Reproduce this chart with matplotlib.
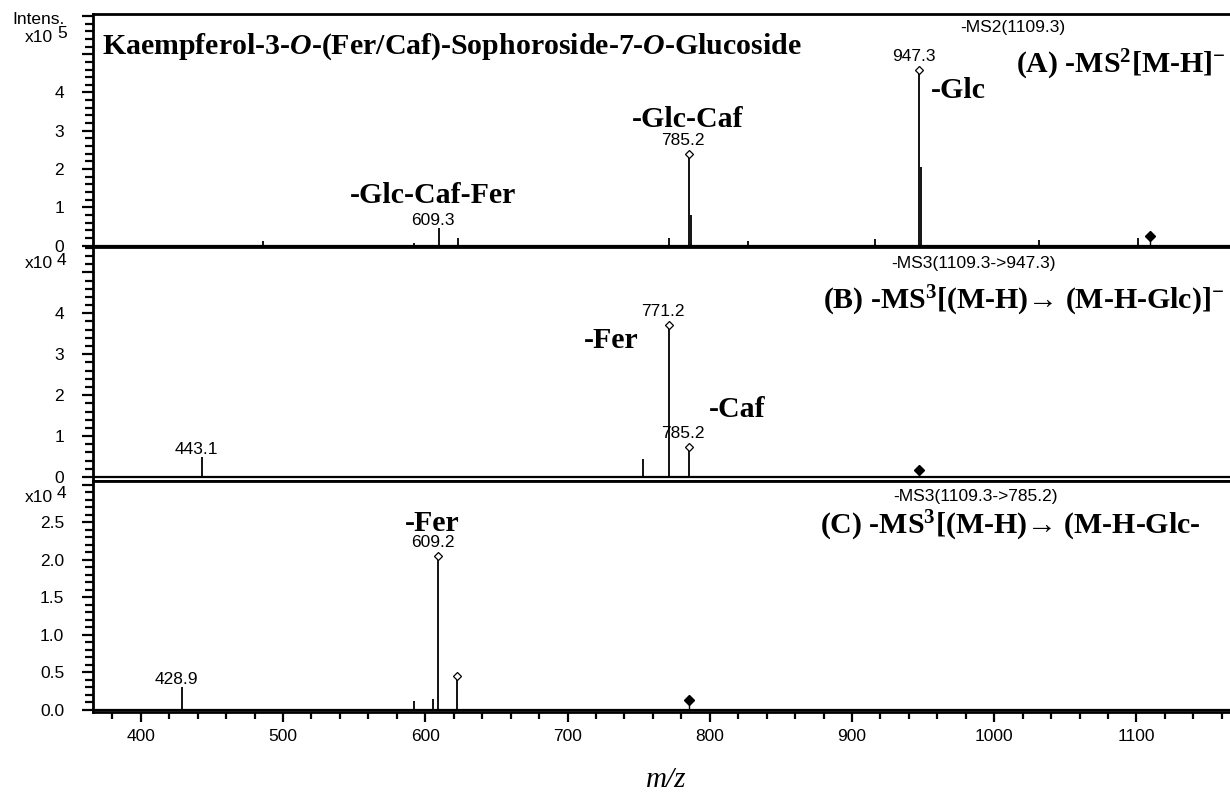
import matplotlib
matplotlib.use("Agg")
import matplotlib.pyplot as plt
import matplotlib.transforms as mtransforms
from matplotlib.ticker import MultipleLocator

# ---- data ----
# (A) MS2 of 1109.3, intensity x1e5
a_mz = [485.9, 592.1, 609.3, 622.8, 771.4, 785.2, 786.9, 827.1, 915.9, 947.3, 948.3, 1031.5, 1101.1]
a_int = [0.13, 0.08, 0.46, 0.21, 0.19, 2.30, 0.80, 0.12, 0.18, 4.50, 2.05, 0.15, 0.20]
a_open = [947.3, 785.2]
a_labels = ["947.3", "785.2", "609.3"]
a_prec = (1109.3, 0.16)

# (B) MS3 1109.3->947.3, intensity x1e4
b_mz = [443.1, 753.1, 771.2, 785.2]
b_int = [0.50, 0.44, 3.62, 0.64]
b_open = [771.2, 785.2]
b_labels = ["443.1", "771.2", "785.2"]
b_prec = (947.3, 0.08)

# (C) MS3 1109.3->785.2, intensity x1e4
c_mz = [428.9, 592.1, 605.4, 609.2, 622.3]
c_int = [0.30, 0.12, 0.15, 2.00, 0.40]
c_open = [609.2, 622.3]
c_labels = ["428.9", "609.2"]
c_prec = (785.2, 0.08)

a_yticks = [0, 1, 2, 3, 4, 5, 6]
a_yticklabels = ["0", "1", "2", "3", "4", "", ""]
b_yticks = [0, 1, 2, 3, 4, 5]
b_yticklabels = ["0", "1", "2", "3", "4", ""]
c_yticks = [0.0, 0.5, 1.0, 1.5, 2.0, 2.5, 3.0]
c_yticklabels = ["0.0", "0.5", "1.0", "1.5", "2.0", "2.5", ""]
x_ticks = [400, 500, 600, 700, 800, 900, 1000, 1100]

plt.rcParams["font.family"] = ["Liberation Sans", "DejaVu Sans"]
plt.rcParams["mathtext.fontset"] = "custom"
plt.rcParams["mathtext.rm"] = "Liberation Serif:bold"
plt.rcParams["mathtext.bf"] = "Liberation Serif:bold"
plt.rcParams["mathtext.it"] = "Liberation Serif:bold:italic"

W, H = 1230, 795
fig = plt.figure(figsize=(W / 100, H / 100), dpi=100)


def px_axes(top, bottom):
    left = 93.3
    right = 1240
    return fig.add_axes([left / W, 1 - bottom / H, (right - left) / W, (bottom - top) / H])


axA = px_axes(14, 247)
axB = px_axes(247, 480.5)
axC = px_axes(480.5, 712)

xlim = (366.6, 1172.8)
bold_serif = dict(family=["Liberation Serif", "DejaVu Serif"], weight="bold", fontsize=21.5)
fs_small = 12.5
small = dict(fontsize=fs_small)


def draw(ax, mz, inten, opened, labels, prec, ylim, yticks, yticklabels, minor):
    ax.vlines(mz, 0, inten, color="black", lw=1.3)
    ax.axhline(0, color="black", lw=1.6)
    mark_tr = mtransforms.offset_copy(ax.transData, fig=fig, y=3.5, units="dots")
    for m in opened:
        h = inten[mz.index(m)]
        ax.plot([m], [h], marker="D", ms=4.5, mfc="white", mec="black", mew=0.9,
                transform=mark_tr, clip_on=False)
    for lab in labels:
        m = float(lab)
        h = inten[mz.index(m)]
        off = 7 if m in opened else 0
        ax.annotate(lab, (m, h), xytext=(-4, off), textcoords="offset points",
                    ha="center", va="bottom", **small)
    ax.vlines([prec[0]], 0, [prec[1]], color="black", lw=1.0)
    ax.plot([prec[0]], [prec[1]], marker="D", ms=5, color="black", transform=mark_tr)
    ax.set_xlim(*xlim)
    ax.set_ylim(*ylim)
    ax.set_yticks(yticks)
    ax.set_yticklabels(yticklabels)
    ax.yaxis.set_minor_locator(MultipleLocator(minor))
    ax.tick_params(axis="y", which="major", direction="out", length=8, width=1.6,
                   pad=13, labelsize=fs_small)
    ax.tick_params(axis="y", which="minor", direction="out", length=5.5, width=1.6)
    for s in ax.spines.values():
        s.set_linewidth(2)


draw(axA, a_mz, a_int, a_open, a_labels, a_prec, (-0.037, 6.05), a_yticks, a_yticklabels, 0.2)
draw(axB, b_mz, b_int, b_open, b_labels, b_prec, (-0.086, 5.62), b_yticks, b_yticklabels, 0.2)
draw(axC, c_mz, c_int, c_open, c_labels, c_prec, (-0.027, 3.06), c_yticks, c_yticklabels, 0.1)

for ax in (axA, axB):
    ax.tick_params(axis="x", which="both", bottom=False, labelbottom=False)

axC.set_xticks(x_ticks)
axC.xaxis.set_minor_locator(MultipleLocator(20))
axC.tick_params(axis="x", which="major", direction="out", length=7, width=1.6,
                pad=5, labelsize=fs_small)
axC.tick_params(axis="x", which="minor", direction="out", length=5, width=1.6)
axC.set_xlabel("m/z", family=["Liberation Serif"], style="italic", fontsize=21, labelpad=17)

# panel A
axA.text(0.008, 0.86, r"Kaempferol-3-$\mathit{O}$-(Fer/Caf)-Sophoroside-7-$\mathit{O}$-Glucoside",
         transform=axA.transAxes, ha="left", va="center", **bold_serif)
axA.text(1013.4, 5.71, "-MS2(1109.3)", ha="center", va="center", **small)
axA.text(1015.5, 4.72, r"(A) -MS$^{2}$[M-H]$^{-}$", ha="left", va="center", **bold_serif)
axA.text(955.5, 4.06, "-Glc", ha="left", va="center", **bold_serif)
axA.text(784.8, 3.30, "-Glc-Caf", ha="center", va="center", **bold_serif)
axA.text(605.3, 1.32, "-Glc-Caf-Fer", ha="center", va="center", **bold_serif)

# panel B
axB.text(985.2, 5.21, "-MS3(1109.3->947.3)", ha="center", va="center", **small)
axB.text(879.9, 4.30, "(B) -MS$^{3}$[(M-H)\u2192 (M-H-Glc)]$^{-}$", ha="left", va="center", **bold_serif)
axB.text(711.7, 3.33, "-Fer", ha="left", va="center", **bold_serif)
axB.text(799.3, 1.66, "-Caf", ha="left", va="center", **bold_serif)

# panel C
axC.text(986.6, 2.85, "-MS3(1109.3->785.2)", ha="center", va="center", **small)
axC.text(877.7, 2.45, "(C) -MS$^{3}$[(M-H)\u2192 (M-H-Glc-", ha="left", va="center", **bold_serif)
axC.text(585.9, 2.49, "-Fer", ha="left", va="center", **bold_serif)

# intensity labels at the left
fig.text(39 / W, 1 - 19 / H, "Intens.", ha="center", va="center", fontsize=fs_small)
for y_x10, y_exp, e in [(37, 33, "5"), (264, 261, "4"), (497, 494, "4")]:
    fig.text(53 / W, 1 - y_x10 / H, "x10", ha="right", va="center", fontsize=fs_small)
    fig.text(57 / W, 1 - y_exp / H, e, ha="left", va="center", fontsize=fs_small)

fig.savefig("out.png", dpi=100)
